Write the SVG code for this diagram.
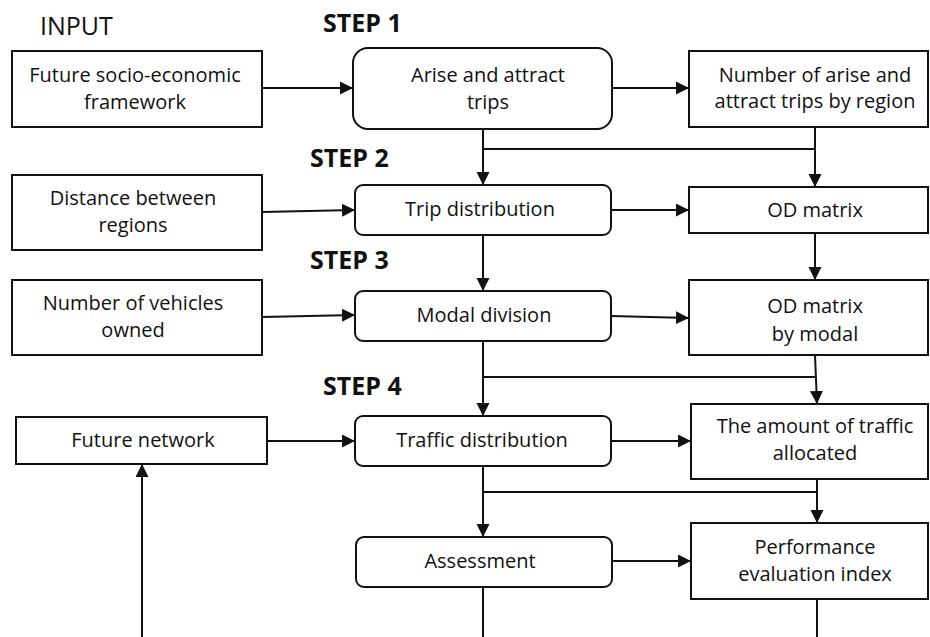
<svg xmlns="http://www.w3.org/2000/svg" width="930" height="637" viewBox="0 0 930 637">
<defs>
<marker id="ah" markerUnits="userSpaceOnUse" markerWidth="14" markerHeight="14" refX="13" refY="6.5" orient="auto">
<path d="M0,0 L13,6.5 L0,13 z" fill="#111"/>
</marker>
<style>
.box{fill:#fff;stroke:#111;stroke-width:2}
.t{font-family:"Open Sans","Noto Sans",sans-serif;font-size:20px;fill:#111;text-anchor:middle}
.h{font-family:"Open Sans","Noto Sans",sans-serif;font-size:25px;font-weight:bold;fill:#111}
.in{font-family:"Open Sans","Noto Sans",sans-serif;font-size:25px;fill:#111}
.c{fill:none;stroke:#111;stroke-width:2}
.a{marker-end:url(#ah)}
</style>
</defs>
<rect width="930" height="637" fill="#fff"/>
<g id="labels">
<text class="in" x="40" y="35">INPUT</text>
<text class="h" x="323" y="32">STEP 1</text>
<text class="h" x="310" y="167">STEP 2</text>
<text class="h" x="310" y="269">STEP 3</text>
<text class="h" x="323" y="395">STEP 4</text>
</g>
<g id="connectors">
<line class="c a" x1="262" y1="88" x2="353" y2="88"/>
<line class="c a" x1="612" y1="88" x2="689" y2="88"/>
<line class="c a" x1="483" y1="129" x2="483" y2="185"/>
<line class="c" x1="483" y1="149" x2="815" y2="149"/>
<line class="c a" x1="815" y1="127" x2="815" y2="187"/>
<line class="c a" x1="262" y1="212" x2="355" y2="210"/>
<line class="c a" x1="611" y1="210" x2="689" y2="210"/>
<line class="c a" x1="483" y1="235" x2="483" y2="291"/>
<line class="c a" x1="815" y1="233" x2="815" y2="280"/>
<line class="c a" x1="262" y1="317" x2="355" y2="315"/>
<line class="c a" x1="611" y1="316" x2="689" y2="318"/>
<line class="c a" x1="483" y1="341" x2="483" y2="416"/>
<line class="c" x1="483" y1="377" x2="815" y2="377"/>
<line class="c a" x1="815" y1="355" x2="817" y2="404"/>
<line class="c a" x1="267" y1="441" x2="355" y2="441"/>
<line class="c a" x1="611" y1="441" x2="691" y2="441"/>
<line class="c a" x1="483" y1="466" x2="483" y2="537"/>
<line class="c" x1="483" y1="492" x2="817" y2="492"/>
<line class="c a" x1="817" y1="479" x2="817" y2="523"/>
<line class="c a" x1="612" y1="561" x2="691" y2="561"/>
<line class="c" x1="483" y1="587" x2="483" y2="637"/>
<line class="c" x1="817" y1="599" x2="817" y2="637"/>
<line class="c a" x1="142" y1="637" x2="142" y2="464"/>
</g>
<g id="n-socio">
<rect class="box" x="12" y="51" width="250" height="76"/>
<text class="t" x="135" y="82">Future socio-economic</text>
<text class="t" x="135" y="109">framework</text>
</g>
<g id="n-arise">
<rect class="box" x="353" y="48" width="259" height="81" rx="15"/>
<text class="t" x="488" y="82">Arise and attract</text>
<text class="t" x="488" y="109">trips</text>
</g>
<g id="n-number">
<rect class="box" x="689" y="51" width="239" height="76"/>
<text class="t" x="815" y="82">Number of arise and</text>
<text class="t" x="815" y="108">attract trips by region</text>
</g>
<g id="n-distance">
<rect class="box" x="12" y="175" width="250" height="75"/>
<text class="t" x="133" y="205">Distance between</text>
<text class="t" x="133" y="232">regions</text>
</g>
<g id="n-trip">
<rect class="box" x="355" y="185" width="256" height="50" rx="8"/>
<text class="t" x="480" y="216">Trip distribution</text>
</g>
<g id="n-od">
<rect class="box" x="689" y="187" width="239" height="46"/>
<text class="t" x="815" y="217">OD matrix</text>
</g>
<g id="n-vehicles">
<rect class="box" x="12" y="280" width="250" height="75"/>
<text class="t" x="133" y="310">Number of vehicles</text>
<text class="t" x="133" y="337">owned</text>
</g>
<g id="n-modal">
<rect class="box" x="355" y="291" width="256" height="50" rx="8"/>
<text class="t" x="484" y="322">Modal division</text>
</g>
<g id="n-odmodal">
<rect class="box" x="689" y="280" width="239" height="75"/>
<text class="t" x="815" y="313">OD matrix</text>
<text class="t" x="815" y="341">by modal</text>
</g>
<g id="n-network">
<rect class="box" x="16" y="417" width="251" height="47"/>
<text class="t" x="143" y="447">Future network</text>
</g>
<g id="n-traffic">
<rect class="box" x="355" y="416" width="256" height="50" rx="8"/>
<text class="t" x="482" y="447">Traffic distribution</text>
</g>
<g id="n-amount">
<rect class="box" x="691" y="404" width="237" height="75"/>
<text class="t" x="815" y="433">The amount of traffic</text>
<text class="t" x="815" y="460">allocated</text>
</g>
<g id="n-assessment">
<rect class="box" x="356" y="537" width="256" height="50" rx="8"/>
<text class="t" x="480" y="568">Assessment</text>
</g>
<g id="n-performance">
<rect class="box" x="691" y="523" width="237" height="76"/>
<text class="t" x="815" y="554">Performance</text>
<text class="t" x="815" y="581">evaluation index</text>
</g>
</svg>
